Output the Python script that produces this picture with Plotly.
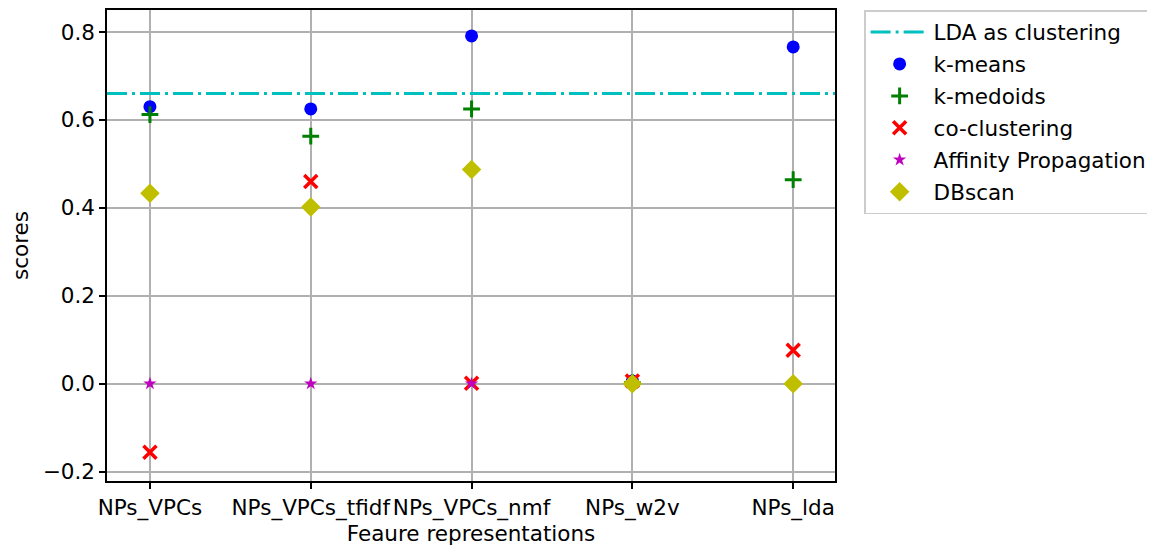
import plotly.graph_objects as go

categories = ["NPs_VPCs", "NPs_VPCs_tfidf", "NPs_VPCs_nmf", "NPs_w2v", "NPs_lda"]
kmeans = [0.630, 0.625, 0.791, 0.006, 0.766]
kmedoids = [0.612, 0.563, 0.625, 0.002, 0.464]
coclustering = [-0.156, 0.460, 0.001, 0.006, 0.076]
affinity = [0.0, 0.0, 0.0, 0.0, 0.0]
dbscan = [0.433, 0.402, 0.487, 0.0, 0.0]
lda_score = 0.66
yticks = [-0.2, 0.0, 0.2, 0.4, 0.6, 0.8]
ytick_labels = ["\u22120.2", "0.0", "0.2", "0.4", "0.6", "0.8"]

FONT = "DejaVu Sans"
FS = 21.5
xpos = list(range(len(categories)))
XR = [-0.267, 4.26]

fig = go.Figure()

fig.add_trace(go.Scatter(
    x=XR, y=[lda_score, lda_score], mode="lines",
    line=dict(color="#00bfbf", width=3, dash="20px,5px,3px,5px"),
    name="LDA as clustering", legendgroup="a"))
fig.add_trace(go.Scatter(
    x=xpos, y=kmeans, mode="markers", name="k-means", legendgroup="b",
    marker=dict(symbol="circle", size=13, color="#0000ff")))
fig.add_trace(go.Scatter(
    x=xpos, y=kmedoids, mode="markers", name="k-medoids", legendgroup="c",
    marker=dict(symbol="cross-thin", size=12, color="#008000",
                line=dict(width=3, color="#008000"))))
fig.add_trace(go.Scatter(
    x=xpos, y=coclustering, mode="markers", name="co-clustering", legendgroup="d",
    marker=dict(symbol="x-thin", size=13, color="#ff0000",
                line=dict(width=3.5, color="#ff0000"))))
fig.add_trace(go.Scatter(
    x=xpos, y=affinity, mode="markers", name="Affinity Propagation", legendgroup="e",
    marker=dict(symbol="star", size=10, color="#bf00bf")))
fig.add_trace(go.Scatter(
    x=xpos, y=dbscan, mode="markers", name="DBscan", legendgroup="f",
    marker=dict(symbol="diamond", size=15, color="#bfbf00")))

axis_common = dict(
    showline=True, linecolor="black", linewidth=1.5, mirror=True,
    ticks="outside", ticklen=6, tickwidth=1.5, tickcolor="black",
    showgrid=True, gridcolor="#b0b0b0", gridwidth=1.5, zeroline=False,
    tickfont=dict(family=FONT, size=FS, color="black"),
)

fig.update_layout(
    width=1147, height=540,
    margin=dict(l=99, r=320, t=0, b=67),
    plot_bgcolor="white", paper_bgcolor="white",
    font=dict(family=FONT, size=FS, color="black"),
    xaxis=dict(range=XR, tickvals=xpos, ticktext=categories, tickangle=0,
               title=dict(text="Feaure representations", standoff=4,
                          font=dict(family=FONT, size=FS)),
               **axis_common),
    yaxis=dict(range=[-0.2215, 0.85], tickvals=yticks, ticktext=ytick_labels,
               title=dict(text="scores", standoff=12,
                          font=dict(family=FONT, size=FS)),
               **axis_common),
    legend=dict(x=1.04, y=1.0, xanchor="left", yanchor="top",
                bordercolor="#cccccc", borderwidth=1.5, bgcolor="white",
                font=dict(family=FONT, size=FS), tracegroupgap=1,
                itemwidth=58),
    showlegend=True,
)

fig.write_html("out.html")
